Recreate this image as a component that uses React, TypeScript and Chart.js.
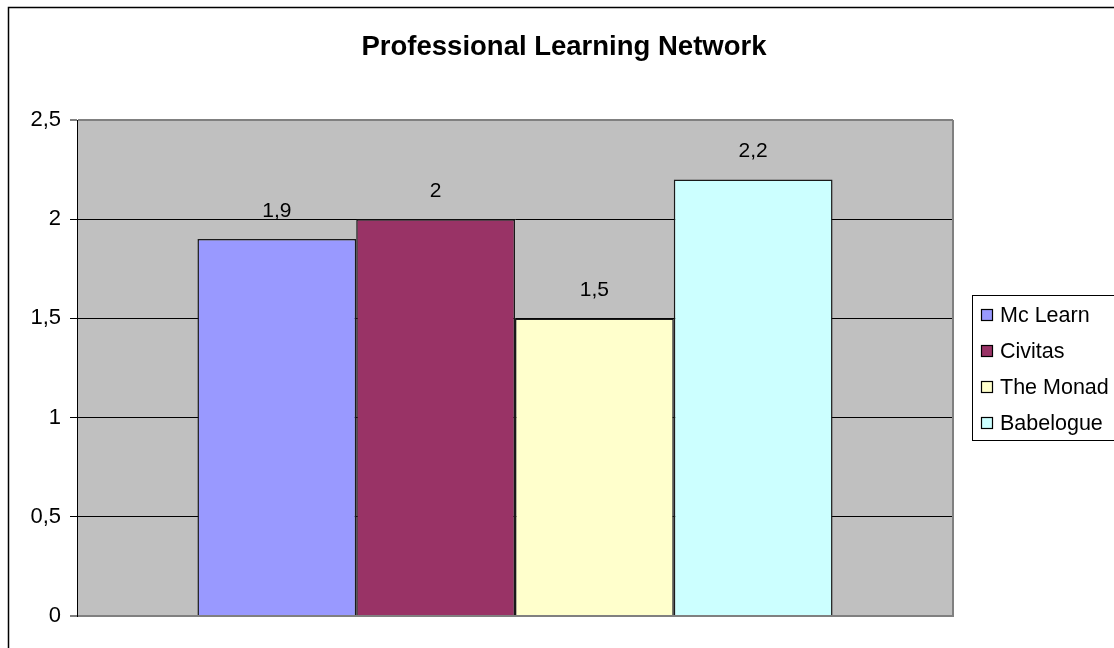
import React, { useEffect, useRef } from "react";
import { Chart, registerables } from "chart.js";

Chart.register(...registerables);

const chartTitle = "Professional Learning Network";
const categories = [""];
const seriesNames = ["Mc Learn", "Civitas", "The Monad", "Babelogue"];
const seriesValues = [[1.9], [2], [1.5], [2.2]];
const seriesColors = ["#9999FF", "#993366", "#FFFFCC", "#CCFFFF"];
const yMin = 0;
const yMax = 2.5;
const yStep = 0.5;

const FONT = "'Liberation Sans', Arial, sans-serif";
const fmt = (v: number) => String(v).replace(".", ",");

const decorPlugin = {
  id: "decor",
  beforeDraw(chart: any) {
    const { ctx, chartArea: a } = chart;
    ctx.save();
    ctx.fillStyle = "#ffffff";
    ctx.fillRect(0, 0, chart.width, chart.height);
    // outer chart border
    ctx.strokeStyle = "#000000";
    ctx.lineWidth = 1.5;
    ctx.strokeRect(8.5, 7.5, chart.width + 20, chart.height + 20);
    // plot area background
    ctx.fillStyle = "#C0C0C0";
    ctx.fillRect(a.left, a.top, a.right - a.left, a.bottom - a.top);
    ctx.restore();
  },
  afterDatasetsDraw(chart: any) {
    const { ctx, chartArea: a } = chart;
    ctx.save();
    // plot frame right side
    ctx.strokeStyle = "#808080";
    ctx.lineWidth = 2;
    ctx.beginPath();
    ctx.moveTo(a.right, a.top);
    ctx.lineTo(a.right, a.bottom + 1);
    ctx.stroke();
    // data labels
    ctx.fillStyle = "#000000";
    ctx.font = `21px ${FONT}`;
    ctx.textAlign = "center";
    ctx.textBaseline = "middle";
    chart.data.datasets.forEach((ds: any, i: number) => {
      const meta = chart.getDatasetMeta(i);
      meta.data.forEach((bar: any, j: number) => {
        ctx.fillText(fmt(ds.data[j]), bar.x, bar.y - 28);
      });
    });
    ctx.restore();
  },
  afterDraw(chart: any) {
    const { ctx } = chart;
    ctx.save();
    // title
    ctx.fillStyle = "#000000";
    ctx.font = `bold 27.5px ${FONT}`;
    ctx.textAlign = "center";
    ctx.textBaseline = "middle";
    ctx.fillText(chartTitle, 564, 47);
    // legend box
    ctx.strokeStyle = "#000000";
    ctx.lineWidth = 1;
    ctx.strokeRect(972.5, 295.5, 200, 145);
    ctx.font = `21.5px ${FONT}`;
    ctx.textAlign = "left";
    chart.data.datasets.forEach((ds: any, i: number) => {
      const cy = 315 + i * 36;
      ctx.fillStyle = ds.backgroundColor;
      ctx.fillRect(981, cy - 6, 12, 12);
      ctx.strokeStyle = "#000000";
      ctx.lineWidth = 1.2;
      ctx.strokeRect(981.5, cy - 5.5, 11, 11);
      ctx.fillStyle = "#000000";
      ctx.fillText(ds.label, 1000, cy + 1);
    });
    ctx.restore();
  },
};

export default function App() {
  const ref = useRef<HTMLCanvasElement | null>(null);
  useEffect(() => {
    if (!ref.current) return;
    const chart = new Chart(ref.current, {
      type: "bar",
      data: {
        labels: categories,
        datasets: seriesNames.map((name, i) => ({
          label: name,
          data: seriesValues[i],
          backgroundColor: seriesColors[i],
          borderColor: "#1a1a1a",
          borderWidth: 1.5,
          barPercentage: 1,
          categoryPercentage: 0.725,
        })),
      },
      options: {
        animation: false,
        responsive: false,
        devicePixelRatio: 1,
        layout: { padding: { top: 120, right: 161, bottom: 32, left: 0 } },
        plugins: {
          legend: { display: false },
          title: { display: false },
          tooltip: { enabled: false },
        },
        scales: {
          x: {
            ticks: { display: false },
            grid: { display: false, drawTicks: false },
            border: { display: true, color: "#808080", width: 2 },
            afterFit: (s: any) => {
              s.height = 0;
            },
          },
          y: {
            min: yMin,
            max: yMax,
            ticks: {
              stepSize: yStep,
              color: "#000000",
              padding: 9,
              font: { family: FONT, size: 22 },
              callback: (v: any) => fmt(Number(v)),
            },
            grid: {
              color: (c: any) =>
                c.tick && (c.tick.value === yMax || c.tick.value === yMin) ? "#808080" : "#000000",
              lineWidth: (c: any) =>
                c.tick && (c.tick.value === yMax || c.tick.value === yMin) ? 2 : 1,
              tickLength: 7,
              drawTicks: true,
            },
            border: { display: true, color: "#000000", width: 1 },
            afterFit: (s: any) => {
              s.width = 77;
            },
          },
        },
      },
      plugins: [decorPlugin],
    });
    return () => chart.destroy();
  }, []);
  return (
    <div style={{ position: "absolute", left: 0, top: 0, width: 1114, height: 648 }}>
      <canvas ref={ref} width={1114} height={648} />
    </div>
  );
}
